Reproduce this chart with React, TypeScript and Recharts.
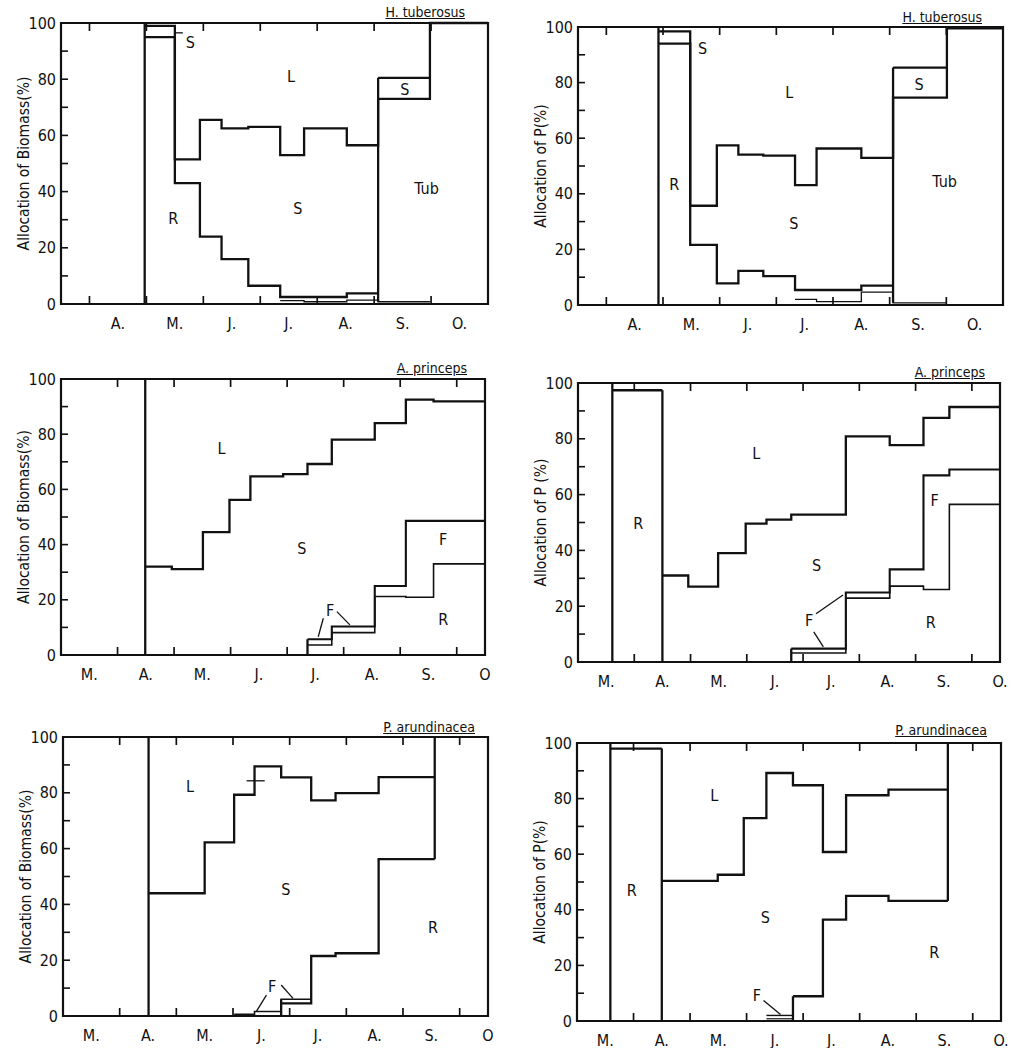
import React from 'react';
import {
  ComposedChart,
  Line,
  XAxis,
  YAxis,
  ReferenceLine,
  ReferenceArea,
  ReferenceDot,
} from 'recharts';

// x is in months, Jan 1 = 0 (so Apr 1 = 3, May 1 = 4 ...)
const monthTicks = [3, 4, 5, 6, 7, 8, 9];
const yMajor = [0, 20, 40, 60, 80, 100];
const yAll = [0, 10, 20, 30, 40, 50, 60, 70, 80, 90, 100];

const aprToOctPos = [3.5, 4.5, 5.5, 6.5, 7.5, 8.5, 9.5];
const aprToOctLabels = ['A.', 'M.', 'J.', 'J.', 'A.', 'S.', 'O.'];
const marToOctPos = [2.5, 3.5, 4.5, 5.5, 6.5, 7.5, 8.5, 9.5];
const marToOctLabels = ['M.', 'A.', 'M.', 'J.', 'J.', 'A.', 'S.', 'O.'];
const marToOctLabels0 = ['M.', 'A.', 'M.', 'J.', 'J.', 'A.', 'S.', 'O'];

// H. tuberosus, biomass
const htBioEdges = [3.97, 4.5, 4.94, 5.32, 5.79, 6.35, 6.77, 7.52, 8.07, 8.98, 10];
const htBioRoot = [95, 43, 24, 16, 6.5, 2.5, 2.5, 3.8];
const htBioRootLow = [1.2, 0.8, 1.4, 0.8];
const htBioStem = [99, 51.5, 65.5, 62.5, 63, 53, 62.5, 56.5, 73, 100];
const htBioStemTub = [80.5];

// H. tuberosus, P
const htPEdges = [3.92, 4.48, 4.95, 5.33, 5.77, 6.33, 6.71, 7.5, 8.06, 9.01, 10];
const htPRoot = [94, 21.6, 7.8, 12.3, 10.4, 5.4, 5.4, 7.0];
const htPRootLow = [2.0, 1.2, 4.6, 0.8];
const htPStem = [98.4, 35.7, 57.4, 54.1, 53.7, 43.1, 56.3, 52.9, 74.6, 99.5];
const htPStemTub = [85.4];

// A. princeps, biomass
const apBioEdges = [3.49, 3.96, 4.51, 4.98, 5.35, 5.93, 6.36, 6.79, 7.55, 8.1, 8.59, 9.5];
const apBioStem = [32, 31.1, 44.5, 56.2, 64.7, 65.5, 69.2, 78, 84, 92.5, 91.9];
const apBioFruit = [5.7, 10.3, 25, 48.6, 48.6];
const apBioRoot = [3.6, 8.1, 21.2, 20.9, 33];

// A. princeps, P
const apPEdges = [2.61, 3.5, 3.96, 4.49, 4.98, 5.35, 5.79, 6.76, 7.54, 8.14, 8.6, 9.5];
const apPRootEarly = [97.4];
const apPStem = [31, 27, 39, 49.6, 51, 52.8, 80.9, 77.7, 87.5, 91.4];
const apPFruit = [4.8, 24.9, 33.2, 66.9, 69];
const apPRoot = [3.2, 22.9, 27.2, 26, 56.5];

// P. arundinacea, biomass
const paBioEdges = [3.51, 4.5, 5.02, 5.38, 5.85, 6.38, 6.81, 7.57, 8.56];
const paBioStem = [44, 62.2, 79.3, 89.5, 85.5, 77.3, 79.9, 85.6];
const paBioFruit = [0.6, 1.6, 6];
const paBioRoot = [4.5, 21.5, 22.5, 56.2];

// P. arundinacea, P
const paPEdges = [2.59, 3.5, 4.49, 4.95, 5.35, 5.82, 6.35, 6.76, 7.51, 8.56];
const paPRootEarly = [98];
const paPStem = [50.4, 52.6, 73, 89.2, 84.8, 60.8, 81.2, 83.2];
const paPFruit = [2.0];
const paPFruitLow = [0.8];
const paPRoot = [8.9, 36.5, 45, 43.2];

type Series = { edges: number[]; vals: number[]; start: number; w: number };
type Panel = {
  id: string;
  left: number;
  top: number;
  w: number;
  h: number;
  domain: [number, number];
  labelPos: number[];
  labels: string[];
  yTitle: string;
  title: string;
  titleRight: number;
  titleTop: number;
  series: Series[];
  verticals: number[][];
  segments: number[][];
  texts: [number, number, string][];
};

const steps = (s: Series) => {
  const pts = s.vals.map((v, i) => ({ x: s.edges[s.start + i], y: v }));
  pts.push({ x: s.edges[s.start + s.vals.length], y: s.vals[s.vals.length - 1] });
  return pts;
};

const panels: Panel[] = [
  {
    id: 'htb', left: 61, top: 23, w: 427, h: 281, domain: [2.5, 10],
    labelPos: aprToOctPos, labels: aprToOctLabels,
    yTitle: 'Allocation of Biomass(%)', title: 'H. tuberosus', titleRight: 465, titleTop: 4,
    series: [
      { edges: htBioEdges, vals: htBioRoot, start: 0, w: 2.3 },
      { edges: htBioEdges, vals: htBioRootLow, start: 5, w: 1.3 },
      { edges: htBioEdges, vals: htBioStem, start: 0, w: 2.3 },
      { edges: htBioEdges, vals: htBioStemTub, start: 8, w: 2.3 },
    ],
    verticals: [[3.97, 0, 100], [8.07, 0.8, 80.5]],
    segments: [[4.51, 96.5, 4.64, 96.5]],
    texts: [[4.77, 93, 'S'], [6.54, 80.8, 'L'], [4.47, 30.5, 'R'], [6.66, 34, 'S'], [8.92, 41, 'Tub'], [8.54, 76.3, 'S']],
  },
  {
    id: 'htp', left: 578, top: 27, w: 425, h: 278, domain: [2.5, 10],
    labelPos: aprToOctPos, labels: aprToOctLabels,
    yTitle: 'Allocation of P(%)', title: 'H. tuberosus', titleRight: 982, titleTop: 9,
    series: [
      { edges: htPEdges, vals: htPRoot, start: 0, w: 2.3 },
      { edges: htPEdges, vals: htPRootLow, start: 5, w: 1.3 },
      { edges: htPEdges, vals: htPStem, start: 0, w: 2.3 },
      { edges: htPEdges, vals: htPStemTub, start: 8, w: 2.3 },
    ],
    verticals: [[3.92, 0, 100], [8.06, 0.8, 85.4]],
    segments: [],
    texts: [[4.7, 92.2, 'S'], [6.23, 76.6, 'L'], [4.2, 43.5, 'R'], [6.31, 29.3, 'S'], [8.97, 44.3, 'Tub'], [8.52, 79.3, 'S']],
  },
  {
    id: 'apb', left: 61, top: 379, w: 424, h: 276, domain: [2, 9.5],
    labelPos: marToOctPos, labels: marToOctLabels0,
    yTitle: 'Allocation of Biomass(%)', title: 'A. princeps', titleRight: 467, titleTop: 360,
    series: [
      { edges: apBioEdges, vals: apBioStem, start: 0, w: 2.3 },
      { edges: apBioEdges, vals: apBioFruit, start: 6, w: 2.1 },
      { edges: apBioEdges, vals: apBioRoot, start: 6, w: 1.6 },
    ],
    verticals: [[3.49, 0, 100], [6.36, 0, 5.7]],
    segments: [[6.64, 13.3, 6.55, 6.6], [6.88, 15.7, 7.11, 10.9]],
    texts: [[4.84, 75, 'L'], [6.26, 38.7, 'S'], [8.76, 41.7, 'F'], [8.76, 12.7, 'R'], [6.76, 16.3, 'F']],
  },
  {
    id: 'app', left: 578, top: 383, w: 422, h: 279, domain: [2, 9.5],
    labelPos: marToOctPos, labels: marToOctLabels,
    yTitle: 'Allocation of P (%)', title: 'A. princeps', titleRight: 985, titleTop: 364,
    series: [
      { edges: apPEdges, vals: apPRootEarly, start: 0, w: 2.3 },
      { edges: apPEdges, vals: apPStem, start: 1, w: 2.3 },
      { edges: apPEdges, vals: apPFruit, start: 6, w: 2.1 },
      { edges: apPEdges, vals: apPRoot, start: 6, w: 1.6 },
    ],
    verticals: [[2.61, 0, 100], [3.5, 0, 97.4], [5.79, 0, 4.8]],
    segments: [[6.23, 17.3, 6.71, 24], [6.19, 10.8, 6.36, 5.4]],
    texts: [[3.07, 49.6, 'R'], [5.17, 74.7, 'L'], [6.24, 34.6, 'S'], [8.34, 57.9, 'F'], [8.27, 14, 'R'], [6.11, 15, 'F']],
  },
  {
    id: 'pab', left: 63, top: 737, w: 425, h: 279, domain: [2, 9.5],
    labelPos: marToOctPos, labels: marToOctLabels0,
    yTitle: 'Allocation of Biomass(%)', title: 'P. arundinacea', titleRight: 475, titleTop: 719,
    series: [
      { edges: paBioEdges, vals: paBioStem, start: 0, w: 2.3 },
      { edges: paBioEdges, vals: paBioFruit, start: 2, w: 1.6 },
      { edges: paBioEdges, vals: paBioRoot, start: 4, w: 2.3 },
    ],
    verticals: [[3.51, 0, 100], [8.56, 56.2, 100], [5.85, 0, 6]],
    segments: [[5.24, 84.3, 5.56, 84.3], [5.59, 7.5, 5.41, 1.6], [5.85, 11.1, 6.06, 6.3]],
    texts: [[4.24, 82.3, 'L'], [5.93, 45.5, 'S'], [8.53, 31.8, 'R'], [5.69, 10.5, 'F']],
  },
  {
    id: 'pap', left: 577, top: 743, w: 424, h: 278, domain: [2, 9.5],
    labelPos: marToOctPos, labels: marToOctLabels,
    yTitle: 'Allocation of P(%)', title: 'P. arundinacea', titleRight: 987, titleTop: 722,
    series: [
      { edges: paPEdges, vals: paPRootEarly, start: 0, w: 2.3 },
      { edges: paPEdges, vals: paPStem, start: 1, w: 2.3 },
      { edges: paPEdges, vals: paPFruit, start: 4, w: 1.4 },
      { edges: paPEdges, vals: paPFruitLow, start: 4, w: 1.2 },
      { edges: paPEdges, vals: paPRoot, start: 5, w: 2.3 },
    ],
    verticals: [[2.59, 0, 100], [3.5, 0, 98], [8.56, 43.2, 100], [5.82, 0, 8.9]],
    segments: [[5.3, 7.4, 5.6, 2.3]],
    texts: [[2.97, 47, 'R'], [4.43, 81.2, 'L'], [5.33, 37.4, 'S'], [8.32, 24.8, 'R'], [5.18, 9.2, 'F']],
  },
];

const FONT = '"DejaVu Sans Condensed", "DejaVu Sans", sans-serif';
const INK = '#111';
const ML = 61;
const MT = 26;
const MR = 14;
const XH = 30;

// bottom axis: month labels, plus inward tick marks on bottom and top edges
const makeXTick = (p: Panel) => (props: any) => {
  const { x, y, payload } = props;
  const li = p.labelPos.indexOf(payload.value);
  if (li >= 0) {
    return (
      <text x={x} y={y + 19} textAnchor="middle" dominantBaseline="central" fill={INK} fontSize={16}>
        {p.labels[li]}
      </text>
    );
  }
  return (
    <g stroke={INK} strokeWidth={1.7}>
      <line x1={x} y1={y} x2={x} y2={y - 8} />
      <line x1={x} y1={y - p.h} x2={x} y2={y - p.h + 8} />
    </g>
  );
};

// left axis: inward ticks every 10, numbers every 20
const makeYTick = (props: any) => {
  const { x, y, payload } = props;
  const v = payload.value;
  return (
    <g>
      {v > 0 && v < 100 && <line x1={x} y1={y} x2={x + 7} y2={y} stroke={INK} strokeWidth={1.6} />}
      {yMajor.includes(v) && (
        <text x={x - 5} y={y} textAnchor="end" dominantBaseline="central" fill={INK} fontSize={16}>
          {v}
        </text>
      )}
    </g>
  );
};

const PanelChart = ({ p }: { p: Panel }) => {
  const xTicks = [...monthTicks, ...p.labelPos].sort((a, b) => a - b);
  return (
    <div style={{ position: 'absolute', left: p.left - ML, top: p.top - MT }}>
      <ComposedChart
        width={ML + p.w + MR}
        height={MT + p.h + XH}
        margin={{ top: MT, right: MR, bottom: 0, left: 0 }}
      >
        <XAxis
          type="number"
          dataKey="x"
          domain={p.domain}
          allowDataOverflow
          ticks={xTicks}
          interval={0}
          axisLine={false}
          tickLine={false}
          tickSize={0}
          tickMargin={0}
          height={XH}
          tick={makeXTick(p)}
        />
        <YAxis
          type="number"
          domain={[0, 100]}
          ticks={yAll}
          interval={0}
          width={ML}
          axisLine={false}
          tickLine={false}
          tickSize={0}
          tickMargin={0}
          tick={makeYTick}
          label={{
            value: p.yTitle,
            angle: -90,
            position: 'insideLeft',
            offset: 23,
            style: { textAnchor: 'middle', fill: INK, fontSize: 15.5 },
          }}
        />
        <ReferenceArea
          x1={p.domain[0]}
          x2={p.domain[1]}
          y1={0}
          y2={100}
          fill="none"
          fillOpacity={0}
          stroke={INK}
          strokeWidth={2.2}
        />
        {p.series.map((s, i) => (
          <Line
            key={`s${i}`}
            data={steps(s)}
            dataKey="y"
            type="stepAfter"
            stroke={INK}
            strokeWidth={s.w}
            dot={false}
            activeDot={false}
            isAnimationActive={false}
          />
        ))}
        {p.verticals.map((v, i) => (
          <ReferenceLine
            key={`v${i}`}
            segment={[{ x: v[0], y: v[1] }, { x: v[0], y: v[2] }]}
            stroke={INK}
            strokeWidth={2.3}
          />
        ))}
        {p.segments.map((s, i) => (
          <ReferenceLine
            key={`g${i}`}
            segment={[{ x: s[0], y: s[1] }, { x: s[2], y: s[3] }]}
            stroke={INK}
            strokeWidth={1.3}
          />
        ))}
        {p.texts.map((t, i) => (
          <ReferenceDot
            key={`t${i}`}
            x={t[0]}
            y={t[1]}
            r={1}
            shape={(d: any) => (
              <text
                x={d.cx}
                y={d.cy}
                textAnchor="middle"
                dominantBaseline="central"
                fill={INK}
                fontSize={16}
              >
                {t[2]}
              </text>
            )}
          />
        ))}
      </ComposedChart>
      <div
        style={{
          position: 'absolute',
          right: ML + p.w + MR - (p.titleRight - p.left + ML),
          top: p.titleTop - p.top + MT,
          fontSize: 14,
          color: INK,
          textDecoration: 'underline',
          whiteSpace: 'nowrap',
        }}
      >
        {p.title}
      </div>
    </div>
  );
};

export default function App() {
  return (
    <div
      style={{
        position: 'absolute',
        left: 0,
        top: 0,
        width: 1021,
        height: 1048,
        background: '#fff',
        fontFamily: FONT,
      }}
    >
      {panels.map((p) => (
        <PanelChart key={p.id} p={p} />
      ))}
    </div>
  );
}
